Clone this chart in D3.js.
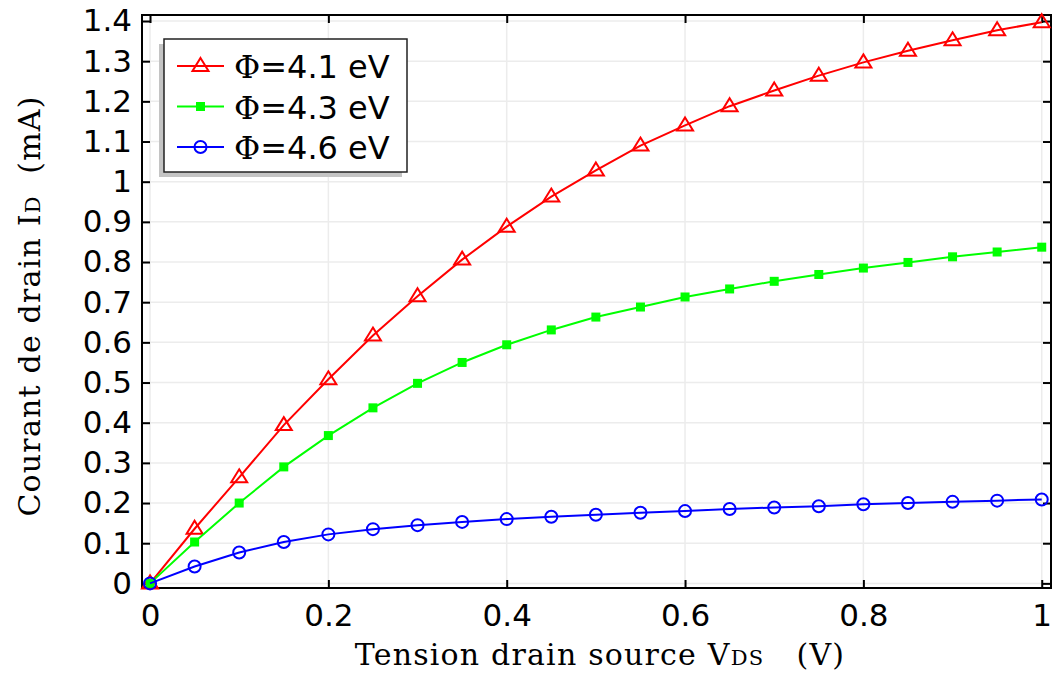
<!DOCTYPE html>
<html>
<head>
<meta charset="utf-8">
<script src="https://cdn.jsdelivr.net/npm/d3@7"></script>
<style>
  body { margin: 0; background: #fff; }
  svg { display: block; }
</style>
</head>
<body>
<div id="chart"></div>
<script>
// data
var vds = [0, 0.05, 0.1, 0.15, 0.2, 0.25, 0.3, 0.35, 0.4, 0.45, 0.5,
           0.55, 0.6, 0.65, 0.7, 0.75, 0.8, 0.85, 0.9, 0.95, 1.0];
var id41 = [0, 0.136, 0.264, 0.394, 0.508, 0.617, 0.715, 0.806, 0.888, 0.963, 1.028,
            1.09, 1.14, 1.188, 1.227, 1.264, 1.297, 1.326, 1.352, 1.377, 1.397];
var id43 = [0, 0.103, 0.2, 0.29, 0.368, 0.437, 0.498, 0.55, 0.594, 0.631, 0.663,
            0.688, 0.713, 0.733, 0.752, 0.769, 0.785, 0.799, 0.813, 0.825, 0.837];
var id46 = [0, 0.042, 0.077, 0.103, 0.122, 0.135, 0.145, 0.153, 0.16, 0.166, 0.171,
            0.176, 0.18, 0.185, 0.189, 0.192, 0.197, 0.2, 0.203, 0.206, 0.209];
var seriesPhi = ["4.1", "4.3", "4.6"];
var colors = ["#ff0000", "#00ff00", "#0000ff"];
var markers = ["triangle", "square", "circle"];
var xTicks = [0, 0.2, 0.4, 0.6, 0.8, 1];
var yTicks = d3.range(0, 15).map(function (i) { return i / 10; });

var width = 1055, height = 675;
var margin = { top: 15, right: 4, bottom: 87, left: 142 };

var svg = d3.select("#chart")
    .append("svg")
    .attr("width", width)
    .attr("height", height);

var x = d3.scaleLinear()
    .domain([-0.009, 1.0104])
    .range([margin.left, width - margin.right]);

var y = d3.scaleLinear()
    .domain([-0.0115, 1.415])
    .range([height - margin.bottom, margin.top]);

var x0 = margin.left, x1 = width - margin.right;
var y0 = height - margin.bottom, y1 = margin.top;

// grid
svg.append("g")
    .selectAll("line")
    .data(xTicks)
    .enter()
    .append("line")
    .attr("x1", function (d) { return x(d); })
    .attr("x2", function (d) { return x(d); })
    .attr("y1", y0)
    .attr("y2", y1)
    .style("stroke", "#ececec")
    .style("stroke-width", 1.5);

svg.append("g")
    .selectAll("line")
    .data(yTicks)
    .enter()
    .append("line")
    .attr("x1", x0)
    .attr("x2", x1)
    .attr("y1", function (d) { return y(d); })
    .attr("y2", function (d) { return y(d); })
    .style("stroke", "#ececec")
    .style("stroke-width", 1.5);

// axes with inward ticks
var tickFont = "DejaVu Sans, sans-serif";
var fmt = function (d) { return d === 0 || d === 1 ? d3.format("d")(d) : d3.format(".1f")(d); };

var bottomAxis = svg.append("g")
    .attr("transform", "translate(0," + y0 + ")")
    .call(d3.axisBottom(x).tickValues(xTicks).tickSize(-8).tickPadding(16).tickFormat(fmt));
var leftAxis = svg.append("g")
    .attr("transform", "translate(" + x0 + ",0)")
    .call(d3.axisLeft(y).tickValues(yTicks).tickSize(-8).tickPadding(10).tickFormat(fmt));
var topAxis = svg.append("g")
    .attr("transform", "translate(0," + y1 + ")")
    .call(d3.axisTop(x).tickValues(xTicks).tickSize(-8).tickFormat(""));
var rightAxis = svg.append("g")
    .attr("transform", "translate(" + x1 + ",0)")
    .call(d3.axisRight(y).tickValues(yTicks).tickSize(-8).tickFormat(""));

[bottomAxis, leftAxis, topAxis, rightAxis].forEach(function (g) {
    g.select(".domain").remove();
    g.selectAll(".tick line").style("stroke", "#000").style("stroke-width", 2);
    g.selectAll("text")
        .style("font-family", tickFont)
        .style("font-size", "31px")
        .style("fill", "#000");
});

// frame
svg.append("rect")
    .attr("x", x0)
    .attr("y", y1)
    .attr("width", x1 - x0)
    .attr("height", y0 - y1)
    .style("fill", "none")
    .style("stroke", "#000")
    .style("stroke-width", 2);

// series
var allSeries = [id41, id43, id46];
var line = d3.line()
    .x(function (d, i) { return x(vds[i]); })
    .y(function (d) { return y(d); });

function drawMarker(g, type, color, cx, cy) {
    if (type === "triangle") {
        g.append("path")
            .attr("d", "M" + cx + "," + (cy - 8) + "L" + (cx + 8) + "," + (cy + 5) + "L" + (cx - 8) + "," + (cy + 5) + "Z")
            .style("fill", "none")
            .style("stroke", color)
            .style("stroke-width", 2);
    } else if (type === "square") {
        g.append("rect")
            .attr("x", cx - 4.5)
            .attr("y", cy - 4.5)
            .attr("width", 9)
            .attr("height", 9)
            .style("fill", color);
    } else {
        g.append("circle")
            .attr("cx", cx)
            .attr("cy", cy)
            .attr("r", 6)
            .style("fill", "none")
            .style("stroke", color)
            .style("stroke-width", 2);
    }
}

allSeries.forEach(function (s, k) {
    var g = svg.append("g");
    g.append("path")
        .datum(s)
        .attr("d", line)
        .style("fill", "none")
        .style("stroke", colors[k])
        .style("stroke-width", 2);
    s.forEach(function (d, i) {
        drawMarker(g, markers[k], colors[k], x(vds[i]), y(d));
    });
});

// legend
var lg = svg.append("g").attr("transform", "translate(164,39)");
lg.append("rect")
    .attr("x", -5).attr("y", 5)
    .attr("width", 243).attr("height", 133)
    .style("fill", "#c4c4c4");
lg.append("rect")
    .attr("width", 243).attr("height", 133)
    .style("fill", "#fff")
    .style("stroke", "#222")
    .style("stroke-width", 1.5);
seriesPhi.forEach(function (phi, k) {
    var cy = 27 + k * 40.5;
    lg.append("line")
        .attr("x1", 13).attr("x2", 60)
        .attr("y1", cy).attr("y2", cy)
        .style("stroke", colors[k])
        .style("stroke-width", 2);
    drawMarker(lg, markers[k], colors[k], 36.5, cy);
    var t = lg.append("text")
        .attr("x", 70)
        .attr("y", cy + 12)
        .style("font-family", tickFont)
        .style("font-size", "32px");
    t.append("tspan").style("font-family", "DejaVu Serif, serif").text("Φ");
    t.append("tspan").text("=" + phi + " eV");
});

// axis titles
var titleFont = "DejaVu Serif, serif";
var xt = svg.append("text")
    .attr("x", 600)
    .attr("y", 665)
    .attr("text-anchor", "middle")
    .style("font-family", titleFont)
    .style("font-size", "30px")
    .style("letter-spacing", "1.2px");
xt.append("tspan").text("Tension drain source V");
xt.append("tspan").style("font-size", "21px").text("DS");
xt.append("tspan").text("\u00a0\u00a0\u00a0(V)");

var yt = svg.append("text")
    .attr("transform", "translate(40,306) rotate(-90)")
    .attr("text-anchor", "middle")
    .style("font-family", titleFont)
    .style("font-size", "30px")
    .style("letter-spacing", "1.2px");
yt.append("tspan").text("Courant de drain I");
yt.append("tspan").style("font-size", "21px").text("D");
yt.append("tspan").text("\u00a0\u00a0(mA)");
</script>
</body>
</html>
